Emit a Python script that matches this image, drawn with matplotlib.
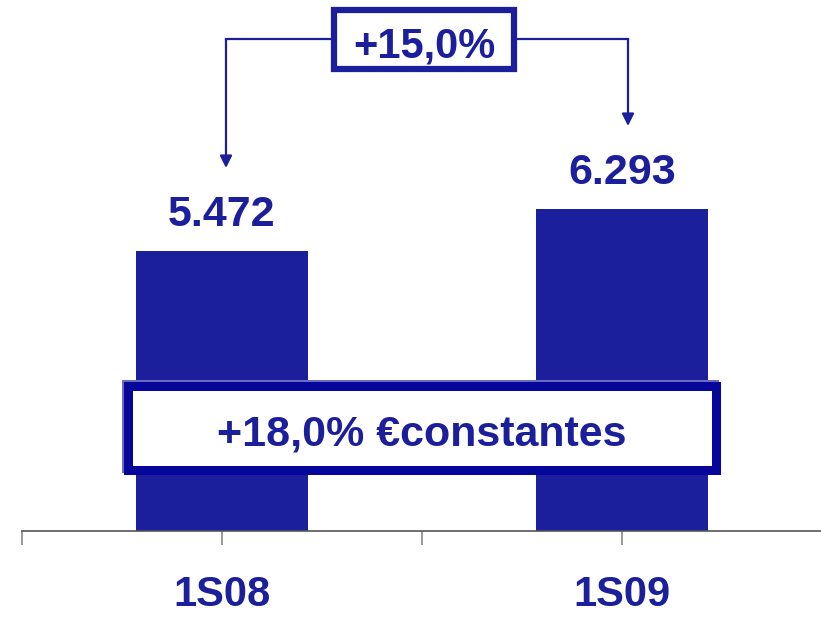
import matplotlib.pyplot as plt
from matplotlib.patches import Rectangle

# data
categories = ["1S08", "1S09"]
values = [5472, 6293]
value_labels = ["5.472", "6.293"]
growth_label = "+15,0%"
constant_label = "+18,0% €constantes"

bar_color = "#1b1f9b"
text_color = "#1b1f9b"
box_dark = "#06069a"
box_light = "#6c6cc2"

plt.rcParams["font.family"] = ["Liberation Sans", "DejaVu Sans"]

fig = plt.figure(figsize=(8.21, 6.17), dpi=100)
ax = fig.add_axes([22 / 821, 86 / 617, 800 / 821, 531 / 617])

x = list(range(len(categories)))
ax.bar(x, values, width=0.43, color=bar_color, zorder=2)

# scale: pixels -> data units (y)
k = values[0] / 280.0
ax.set_xlim(-0.5, 1.5)
ax.set_ylim(0, 531 * k)


def py(p):
    # vertical pixel from top of figure -> data y
    return (531 - p) * k


# axis look
for s in ["top", "left", "right"]:
    ax.spines[s].set_visible(False)
ax.spines["bottom"].set_color("#555555")
ax.spines["bottom"].set_linewidth(1.2)
ax.set_yticks([])
ax.set_xticks([-0.5, 0, 0.5, 1, 1.5])
ax.set_xticklabels([])
ax.tick_params(axis="x", length=10, width=1.2, color="#888888", direction="out")

# category labels
for xi, cat in zip(x, categories):
    ax.text(xi, py(606), cat, ha="center", va="baseline", fontsize=30,
            fontweight="bold", color=text_color, clip_on=False)

# value labels
for xi, v, lab in zip(x, values, value_labels):
    ax.annotate(lab, xy=(xi, v), xytext=(0, 18), textcoords="offset points",
                ha="center", va="baseline", fontsize=31, fontweight="bold",
                color=text_color)

# bracket with +15,0% box
line_y = py(39)
left_x = x[0] + 0.01
right_x = x[1] + 0.015
gap = 83 * k
box_x0, box_x1 = 0.28, 0.73
ax.plot([left_x, box_x0], [line_y, line_y], color=bar_color, lw=1.6, zorder=3)
ax.plot([box_x1, right_x], [line_y, line_y], color=bar_color, lw=1.6, zorder=3)
for xx, v in [(left_x, values[0]), (right_x, values[1])]:
    ax.annotate("", xy=(xx, v + gap), xytext=(xx, line_y),
                arrowprops=dict(arrowstyle="-|>", color=bar_color, lw=1.6,
                                mutation_scale=18, shrinkA=0, shrinkB=0))

ax.add_patch(Rectangle((box_x0, py(69)), box_x1 - box_x0, py(10) - py(69),
                       facecolor="white", edgecolor=bar_color, lw=4.5,
                       zorder=4))
ax.text((box_x0 + box_x1) / 2, py(57), growth_label,
        ha="center", va="baseline", fontsize=30, fontweight="bold",
        color=text_color, zorder=5)

# constant currency box
bx0, bx1 = -0.235, 1.235
by_top, by_bot = py(386), py(470)
ax.add_patch(Rectangle((bx0 - 0.005, by_bot + 2 * k), bx1 - bx0,
                       by_top - by_bot, facecolor="none", edgecolor=box_light,
                       lw=6.5, zorder=4))
ax.add_patch(Rectangle((bx0, by_bot), bx1 - bx0, by_top - by_bot,
                       facecolor="white", edgecolor=box_dark, lw=6.5,
                       zorder=5))
ax.text((bx0 + bx1) / 2, py(445), constant_label, ha="center",
        va="baseline", fontsize=31, fontweight="bold", color=text_color,
        zorder=6)

fig.savefig("out.png", dpi=100)
